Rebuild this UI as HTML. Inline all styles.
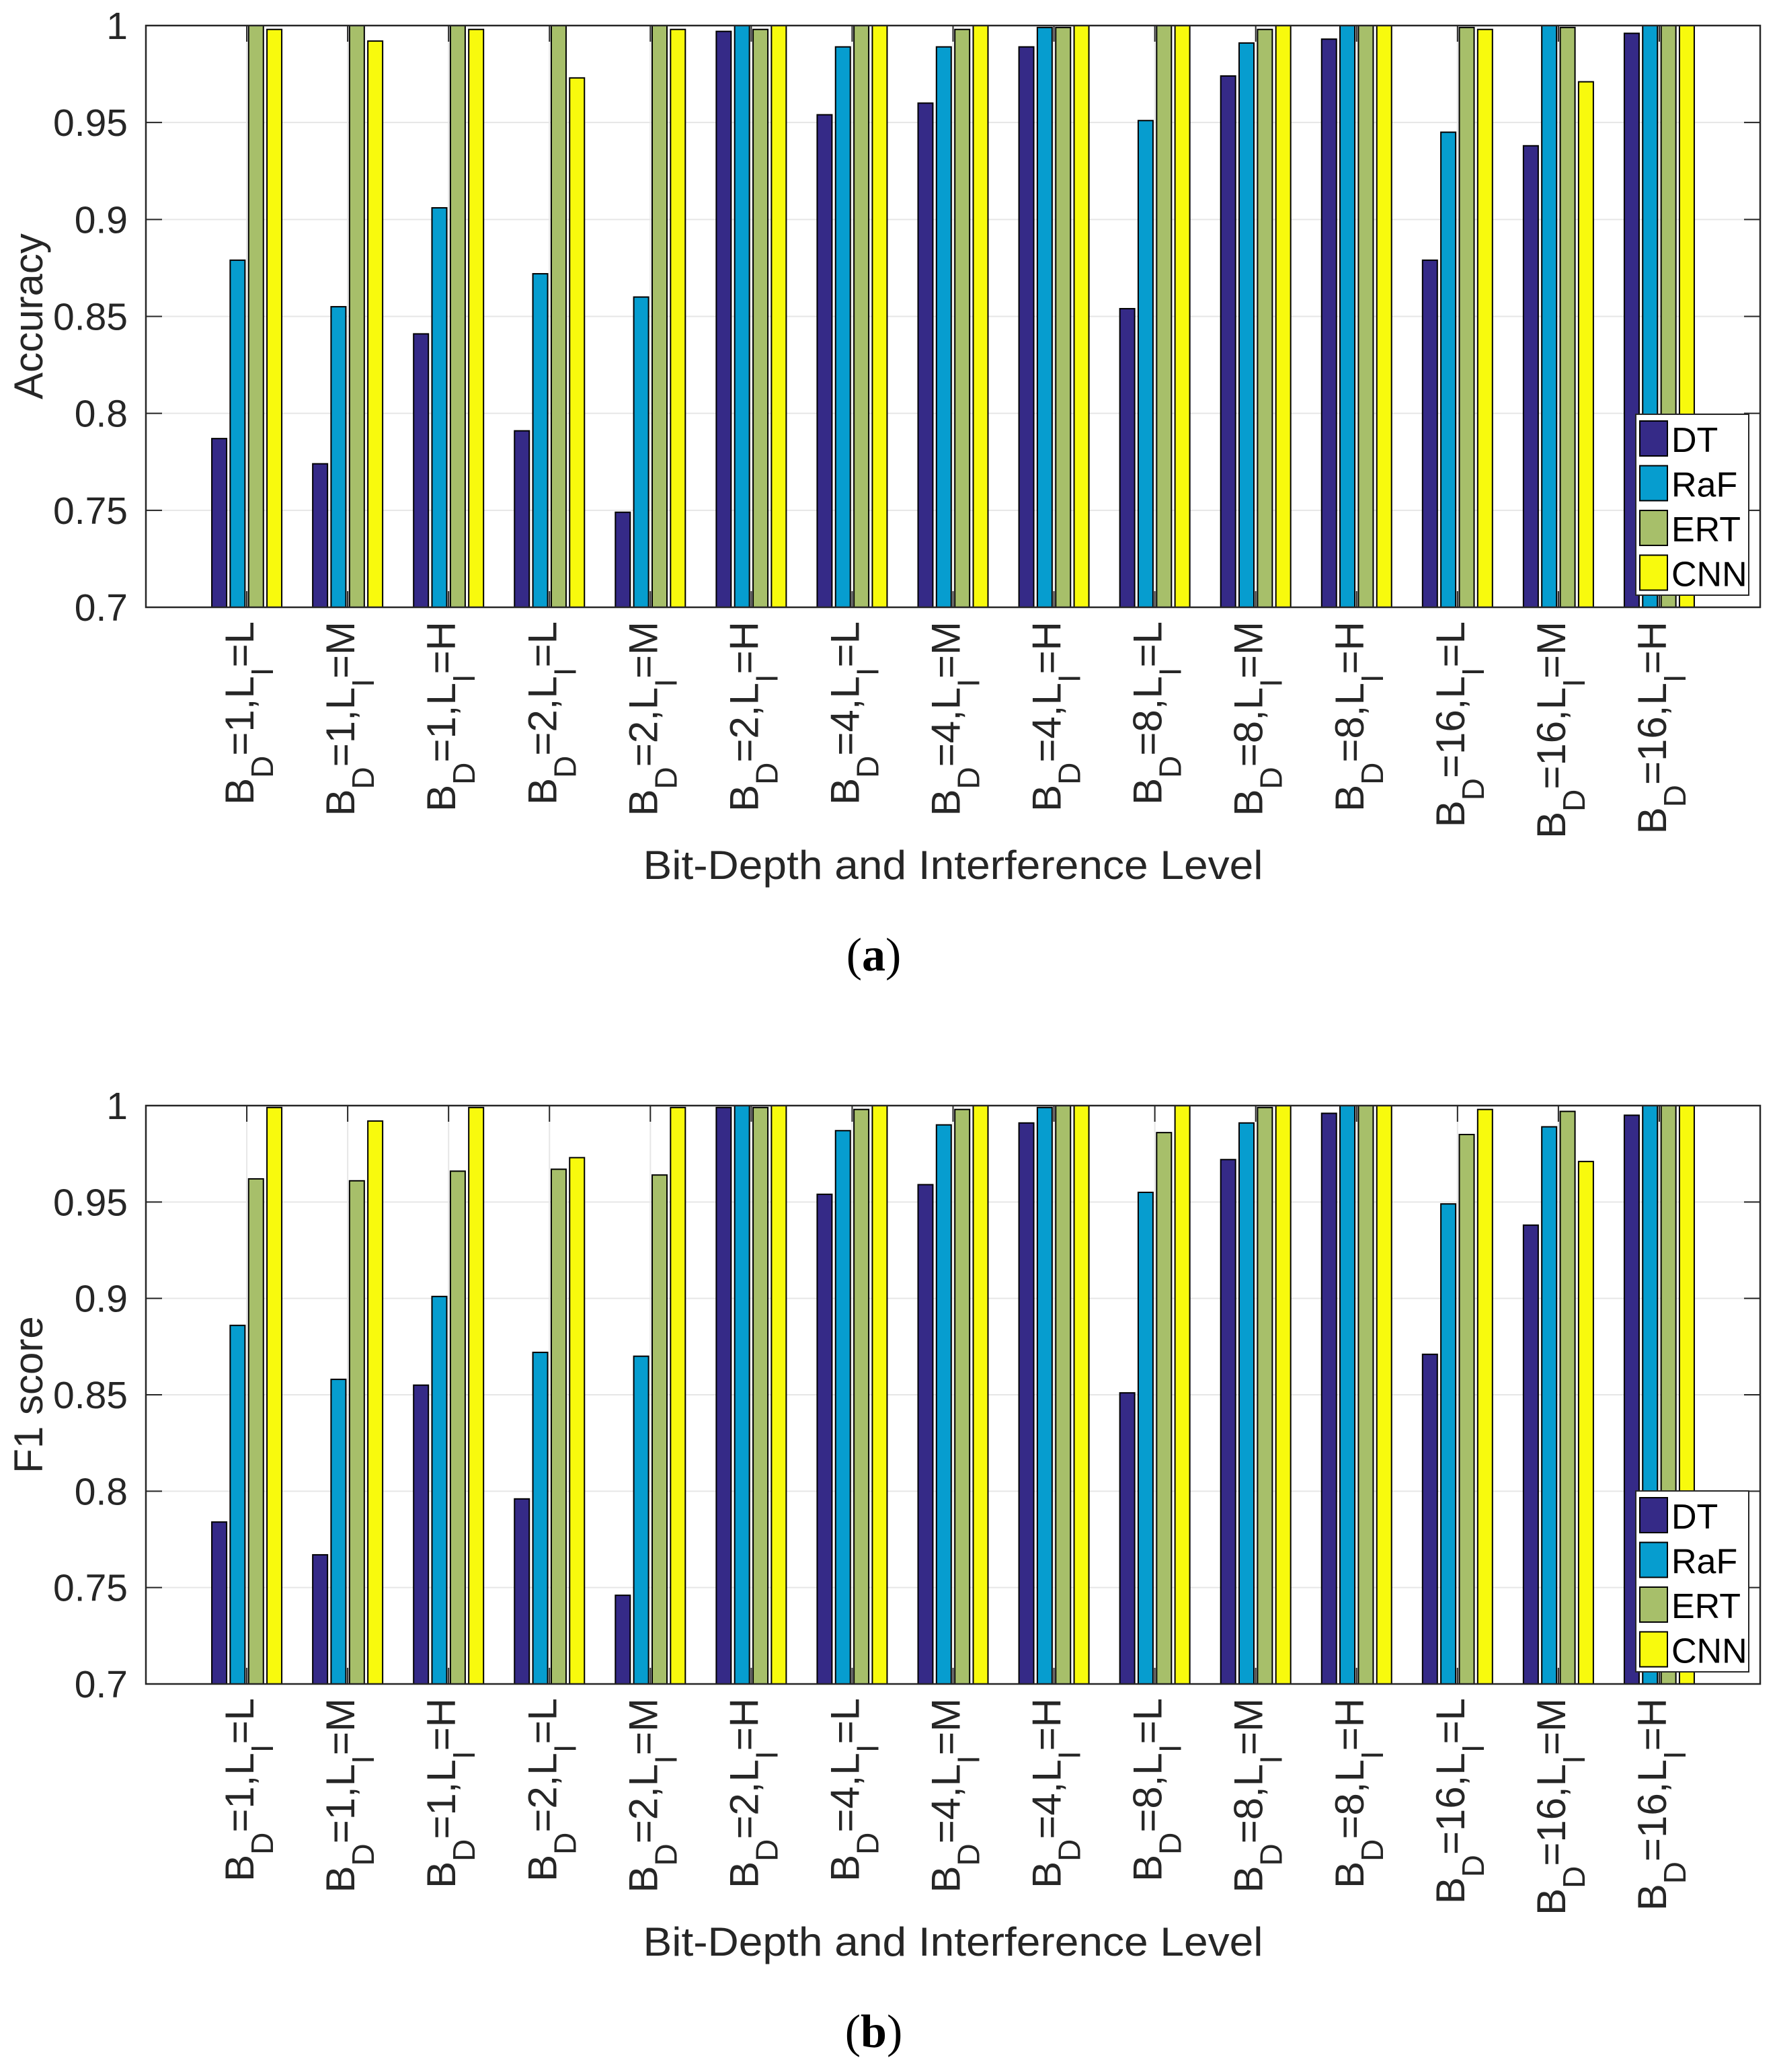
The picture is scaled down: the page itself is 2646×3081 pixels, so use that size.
<!DOCTYPE html>
<html><head><meta charset="utf-8">
<style>
html,body{margin:0;padding:0;background:#fff;}
svg{display:block;}
text{font-family:"Liberation Sans",sans-serif;fill:#262626;}
</style></head>
<body>
<svg id="root" xmlns="http://www.w3.org/2000/svg" width="2646" height="3081" viewBox="0 0 2646 3081"></svg>
<script>
const categoriesBD = [1,1,1,2,2,2,4,4,4,8,8,8,16,16,16];
const categoriesLI = ['L','M','H','L','M','H','L','M','H','L','M','H','L','M','H'];
const seriesNames = ['DT','RaF','ERT','CNN'];
const yTicks = [0.7,0.75,0.8,0.85,0.9,0.95,1];
const yTickLabels = ['0.7','0.75','0.8','0.85','0.9','0.95','1'];
const accDT  = [0.787,0.774,0.841,0.791,0.749,0.997,0.954,0.960,0.989,0.854,0.974,0.993,0.879,0.938,0.996];
const accRaF = [0.879,0.855,0.906,0.872,0.860,1.000,0.989,0.989,0.999,0.951,0.991,1.000,0.945,1.000,1.000];
const accERT = [1.000,1.000,1.000,1.000,1.000,0.998,1.000,0.998,0.999,1.000,0.998,1.000,0.999,0.999,1.000];
const accCNN = [0.998,0.992,0.998,0.973,0.998,1.000,1.000,1.000,1.000,1.000,1.000,1.000,0.998,0.971,1.000];
const f1DT  = [0.784,0.767,0.855,0.796,0.746,0.999,0.954,0.959,0.991,0.851,0.972,0.996,0.871,0.938,0.995];
const f1RaF = [0.886,0.858,0.901,0.872,0.870,1.000,0.987,0.990,0.999,0.955,0.991,1.000,0.949,0.989,1.000];
const f1ERT = [0.962,0.961,0.966,0.967,0.964,0.999,0.998,0.998,1.000,0.986,0.999,1.000,0.985,0.997,1.000];
const f1CNN = [0.999,0.992,0.999,0.973,0.999,1.000,1.000,1.000,1.000,1.000,1.000,1.000,0.998,0.971,1.000];

const colors = ['#352a87','#069dcf','#a7bf6a','#f8fa0d'];
const NS = 'http://www.w3.org/2000/svg';
const root = document.getElementById('root');
function mk(tag, attrs, parent){
  const e = document.createElementNS(NS, tag);
  for (const k in attrs) e.setAttribute(k, attrs[k]);
  (parent||root).appendChild(e);
  return e;
}

function drawChart(cfg){
  const L=217, R=2618, T=cfg.top, B=cfg.bottom;
  const yMin=0.7, yMax=1.0;
  const n=categoriesBD.length;
  const xScale = i => L + (i+1)*(R-L)/(n+1);
  const yScale = v => B - (Math.max(yMin,Math.min(yMax,v))-yMin)/(yMax-yMin)*(B-T);
  const g = mk('g',{});
  
  
  yTicks.forEach(t=>{
    const y=yScale(t);
    const gl=mk('line',{x1:L,x2:R,y1:y,y2:y,stroke:'#e6e6e6','stroke-width':2},g);
    
    
  });
  for(let i=0;i<n;i++){
    const x=xScale(i);
    const gl=mk('line',{x1:x,x2:x,y1:T,y2:B,stroke:'#e6e6e6','stroke-width':2},g);
    
    
  }
  const offs=[-41,-13.7,13.7,41];
  const bw=22;
  for(let i=0;i<n;i++){
    cfg.series.forEach((s,k)=>{
      const x=xScale(i)+offs[k]-bw/2;
      const y=yScale(s[i]);
      const r=mk('rect',{x:x,y:y,width:bw,height:B-y,fill:colors[k],stroke:'#000','stroke-width':2},g);
      
      
    });
  }
  yTicks.forEach((t,j)=>{
    const y=yScale(t);
    mk('line',{x1:L,x2:L+24,y1:y,y2:y,stroke:'#262626','stroke-width':2},g);
    mk('line',{x1:R,x2:R-24,y1:y,y2:y,stroke:'#262626','stroke-width':2},g);
    const tl=mk('text',{x:190,y:y+20,'text-anchor':'end','font-size':57},g);
    tl.textContent=yTickLabels[j];
    
    
  });
  for(let i=0;i<n;i++){
    const x=xScale(i);
    mk('line',{x1:x,x2:x,y1:B,y2:B-24,stroke:'#262626','stroke-width':2},g);
    mk('line',{x1:x,x2:x,y1:T,y2:T+24,stroke:'#262626','stroke-width':2},g);
    const tx=x+10, ty=B+21;
    const t=mk('text',{x:0,y:0,'text-anchor':'end','font-size':60,transform:'translate('+tx+','+ty+') rotate(-90)'},g);
    
    
    const a=mk('tspan',{},t); a.textContent='B';
    const b=mk('tspan',{dy:29,'font-size':46},t); b.textContent='D';
    const c=mk('tspan',{dy:-29},t); c.textContent='='+categoriesBD[i]+',L';
    const d=mk('tspan',{dy:29,'font-size':46},t); d.textContent='I';
    const e=mk('tspan',{dy:-29},t); e.textContent='='+categoriesLI[i];
  }
  const box=mk('rect',{x:L,y:T,width:R-L,height:B-T,fill:'none',stroke:'#262626','stroke-width':2.5},g);
  
  
  const yt=mk('text',{x:0,y:0,'text-anchor':'middle','font-size':60,transform:'translate('+63+','+((T+B)/2)+') rotate(-90)'},g);
  yt.textContent=cfg.yTitle;
  
  
  const xt=mk('text',{x:(L+R)/2,y:B+404,'text-anchor':'middle','font-size':60,textLength:922,lengthAdjust:'spacingAndGlyphs'},g);
  xt.textContent='Bit-Depth and Interference Level';
  
  
  const cap=mk('text',{x:(L+R)/2-118,y:B+540,'text-anchor':'middle','font-size':70,style:'font-family:"Liberation Serif",serif;fill:#000'},g);
  
  
  const p1=mk('tspan',{},cap); p1.textContent='(';
  const p2=mk('tspan',{'font-weight':'bold'},cap); p2.textContent=cfg.caption;
  const p3=mk('tspan',{},cap); p3.textContent=')';
  const lx=2433, ly=B-287, lw=168, lh=269;
  const leg=mk('g',{},g);
  
  
  mk('rect',{x:lx,y:ly,width:lw,height:lh,fill:'#fff',stroke:'#262626','stroke-width':2},leg);
  seriesNames.forEach((s,k)=>{
    const ey=ly+10+k*66.5;
    const ent=mk('g',{},leg);
    
    
    mk('rect',{x:lx+6,y:ey,width:41,height:52,fill:colors[k],stroke:'#000','stroke-width':2},ent);
    const tt=mk('text',{x:lx+53,y:ey+46,'font-size':52,style:'fill:#000'},ent);
    tt.textContent=s;
  });
}

drawChart({name:'accuracy-chart',top:38,bottom:903,yTitle:'Accuracy',caption:'a',series:[accDT,accRaF,accERT,accCNN]});
drawChart({name:'f1-chart',top:1644,bottom:2504,yTitle:'F1 score',caption:'b',series:[f1DT,f1RaF,f1ERT,f1CNN]});
</script>
</body></html>
